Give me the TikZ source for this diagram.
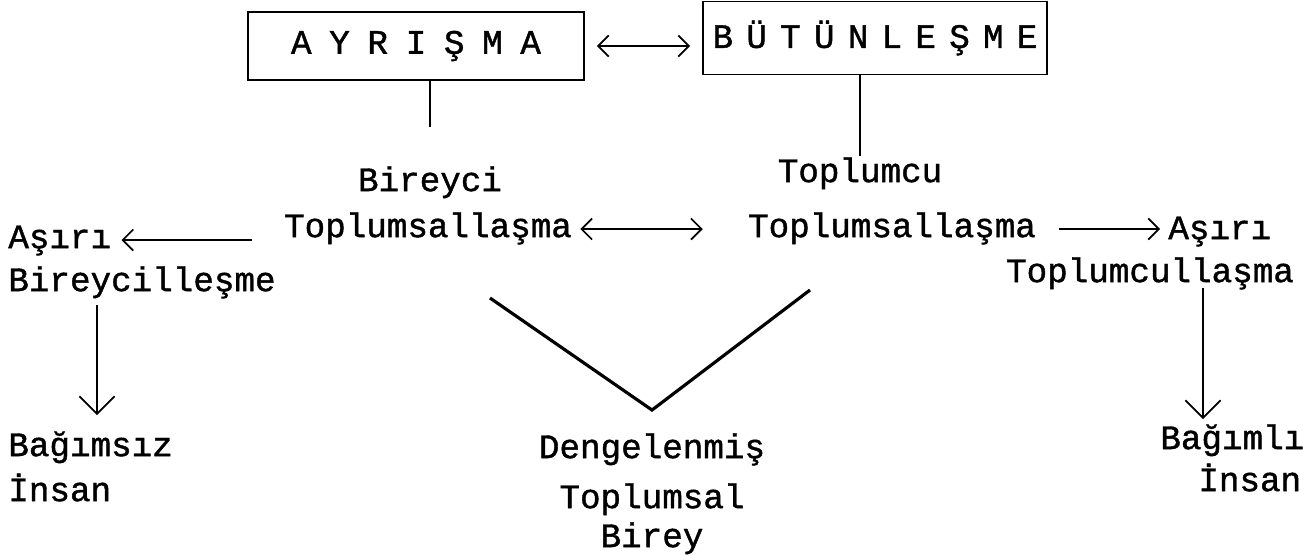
\documentclass[tikz,border=0pt]{standalone}
\usepackage{fontspec}
\setmainfont{Liberation Mono}[FakeBold=1.2]
\usetikzlibrary{arrows.meta}

\tikzset{
  kutu/.style={draw, rectangle, line width=1.1pt, inner sep=0pt},
  yazi/.style={inner sep=0pt, text height=13.5pt, text depth=4.3pt},
  cizgi/.style={line width=1pt},
  kalin/.style={line width=1.8pt},
  ok/.style={line width=1pt, -{Straight Barb[length=6pt,width=12pt,line width=1pt]}},
  ciftok/.style={line width=1pt, {Straight Barb[length=6pt,width=12pt,line width=1pt]}-{Straight Barb[length=6pt,width=12pt,line width=1pt]}},
  asagiok/.style={line width=1pt, -{Straight Barb[length=10pt,width=20pt,line width=1pt]}},
}

\begin{document}
\begin{tikzpicture}[x=0.02cm, y=-0.02cm, font=\fontsize{19.5}{23}\selectfont]
        \useasboundingbox (0,0) rectangle (1307,556);

        % Boxes
        \node[kutu, minimum width=6.72cm, minimum height=1.36cm] (ayr) at (416,46) {\makebox[5.0cm][s]{A\hfill Y\hfill R\hfill I\hfill Ş\hfill M\hfill A}};
        \node[kutu, minimum width=6.88cm, minimum height=1.46cm] (but) at (875,38) {\makebox[6.5cm][s]{B\hfill Ü\hfill T\hfill Ü\hfill N\hfill L\hfill E\hfill Ş\hfill M\hfill E}};

        % Middle row
        \node[yazi] (bireyci) at (430,183) {Bireyci};
        \node[yazi] (toplumcu) at (860,174) {Toplumcu};
        \node[yazi] (tsB) at (428,229) {Toplumsallaşma};
        \node[yazi] (tsT) at (892,229) {Toplumsallaşma};

        % Left side
        \node[yazi, anchor=west] (asB) at (8,240) {Aşırı};
        \node[yazi, anchor=west] (bireycil) at (8,283) {Bireycilleşme};
        \node[yazi, anchor=west] (bagimsiz) at (8,448) {Bağımsız};
        \node[yazi, anchor=west] (insanB) at (8,493) {İnsan};

        % Right side
        \node[yazi, anchor=west] (asT) at (1168,231) {Aşırı};
        \node[yazi] (toplumcul) at (1150,274) {Toplumcullaşma};
        \node[yazi, anchor=west] (bagimli) at (1160,441) {Bağımlı};
        \node[yazi, anchor=west] (insanT) at (1198,483) {İnsan};

        % Bottom middle
        \node[yazi] (denge) at (652,450) {Dengelenmiş};
        \node[yazi] (toplumsal) at (652,500) {Toplumsal};
        \node[yazi] (birey) at (652,539) {Birey};

        % Helper points
        \coordinate (solAsagi) at (97,0);
        \coordinate (sagAsagi) at (1203,0);
        \coordinate (vSol) at (490,298);
        \coordinate (vSag) at (810,290);

        % Connections
        \draw[ciftok, shorten <=0.24cm, shorten >=0.24cm] (ayr.east) -- (ayr.east -| but.west);
        \draw[cizgi, shorten >=0.8cm] (ayr.south -| bireyci.north) -- (bireyci.north);
        \draw[cizgi, shorten >=0.04cm] (but.south -| toplumcu.north) -- (toplumcu.north);
        \draw[ok, shorten <=0.64cm, shorten >=0.2cm] (asB.east -| tsB.west) -- (asB.east);
        \draw[ciftok, shorten <=0.16cm, shorten >=0.9cm] (tsB.east) -- (tsT.west);
        \draw[ok, shorten <=0.46cm, shorten >=0.16cm] (tsT.east) -- (asT.west |- tsT.east);
        \draw[asagiok, shorten <=0.12cm, shorten >=0.34cm] (bireycil.south -| solAsagi) -- (bagimsiz.north -| solAsagi);
        \draw[asagiok, shorten <=-0.04cm, shorten >=0.12cm] (toplumcul.south -| sagAsagi) -- (bagimli.north -| sagAsagi);
        \draw[kalin] (vSol) -- ([yshift=0.48cm]denge.north) -- (vSag);
    \end{tikzpicture}
\end{document}
